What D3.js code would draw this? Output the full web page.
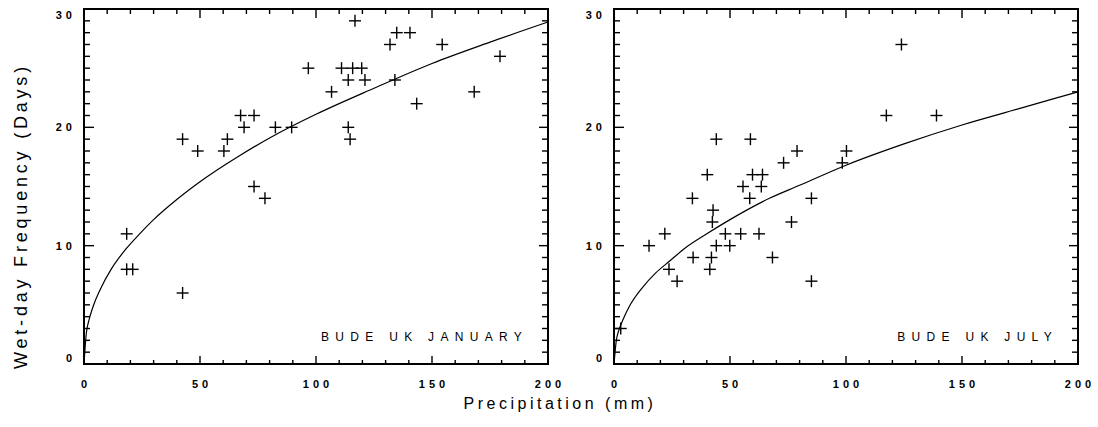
<!DOCTYPE html>
<html>
<head>
<meta charset="utf-8">
<script src="https://cdn.jsdelivr.net/npm/d3@7"></script>
<style>
	body { margin: 0; background: #fff; }
	text { font-family: "Liberation Sans", Arial, sans-serif; fill: #000; }
</style>
</head>
<body>
<div id="container"></div>
<script>
// precipitation (mm) vs wet-day frequency (days)
const janX = [18.4, 18.4, 21, 42.5, 42.5, 49, 60.3, 61.8, 67.5, 73.3, 69, 82.5, 89.5, 73.3, 78, 96.7, 106.7, 111, 115.8, 119.7, 113.9, 121.1, 116.8, 113.9, 114.7, 131.9, 134.8, 140.5, 134, 143.4, 154.4, 168.2, 179.3];
const janY = [11, 8, 8, 6, 19, 18, 18, 19, 21, 21, 20, 20, 20, 15, 14, 25, 23, 25, 25, 25, 24, 24, 29, 20, 19, 27, 28, 28, 24, 22, 27, 23, 26];

const julX = [44.1, 58.8, 73.1, 78.9, 40.2, 59.7, 64, 55.6, 63.5, 33.8, 58.5, 85.1, 42.7, 42.4, 76.5, 15.1, 21.9, 23.7, 27.2, 34.1, 42, 41.3, 44.1, 49.9, 48, 54.6, 62.5, 68.3, 85.1, 2.9, 123.9, 117.4, 139, 100.2, 98.4];
const julY = [19, 19, 17, 18, 16, 16, 16, 15, 15, 14, 14, 14, 13, 12, 12, 10, 11, 8, 7, 9, 9, 8, 10, 10, 11, 11, 11, 9, 7, 3, 27, 21, 21, 18, 17];

// fitted curves
const curveX   = [0, 1, 2, 4, 7, 12, 18, 24, 30, 40, 50, 67, 80, 100, 125, 150, 175, 200];
const janFitY  = [0, 2.6, 3.6, 4.9, 6.3, 8.1, 9.7, 11.0, 12.2, 13.9, 15.4, 17.6, 19.1, 21.1, 23.3, 25.4, 27.2, 28.9];
const julFitY  = [0, 2.0, 2.8, 3.8, 5.0, 6.4, 7.7, 8.7, 9.7, 11.0, 12.2, 14.0, 15.1, 16.8, 18.6, 20.2, 21.6, 23.0];

const xTicks = [0, 50, 100, 150, 200];
const yTicks = [0, 10, 20, 30];
const panelLabels = ["BUDE UK JANUARY", "BUDE UK JULY"];

const width = 1098, height = 427;
const plot = { top: 9, width: 464, height: 355 };
const panelLeft = [84, 614];

const svg = d3.select("#container")
	.append("svg")
	.attr("width", width)
	.attr("height", height);

svg.append("rect").attr("width", width).attr("height", height).attr("fill", "#fff");

const x = d3.scaleLinear().domain([0, 200]).range([0, plot.width]);
const y = d3.scaleLinear().domain([0, 30]).range([plot.height, 0]);

const panels = [
	{ px: janX, py: janY, fit: janFitY, label: panelLabels[0] },
	{ px: julX, py: julY, fit: julFitY, label: panelLabels[1] },
];

panels.forEach((p, i) => {
	const g = svg.append("g")
		.attr("transform", `translate(${panelLeft[i]}, ${plot.top})`);

	// inward ticks on all four sides
	const xMinor = d3.range(0, 201, 10);
	const yMinor = d3.range(0, 31, 1);

	g.selectAll(".tb").data(xMinor).enter().append("line")
		.attr("x1", d => x(d)).attr("x2", d => x(d))
		.attr("y1", plot.height).attr("y2", d => plot.height - (d % 50 === 0 ? 8 : 4))
		.attr("stroke", "#000").attr("stroke-width", 1.4);
	g.selectAll(".tt").data(xMinor).enter().append("line")
		.attr("x1", d => x(d)).attr("x2", d => x(d))
		.attr("y1", 0).attr("y2", d => (d % 50 === 0 ? 9 : 5))
		.attr("stroke", "#000").attr("stroke-width", 1.4);
	g.selectAll(".tl").data(yMinor).enter().append("line")
		.attr("y1", d => y(d)).attr("y2", d => y(d))
		.attr("x1", 0).attr("x2", d => (d % 10 === 0 ? 10 : 6))
		.attr("stroke", "#000").attr("stroke-width", 1.4);
	g.selectAll(".tr").data(yMinor).enter().append("line")
		.attr("y1", d => y(d)).attr("y2", d => y(d))
		.attr("x1", plot.width).attr("x2", d => plot.width - (d % 10 === 0 ? 9 : 6))
		.attr("stroke", "#000").attr("stroke-width", 1.4);

	// frame
	g.append("rect")
		.attr("width", plot.width).attr("height", plot.height)
		.attr("fill", "none").attr("stroke", "#000").attr("stroke-width", 2);

	// tick labels
	g.selectAll(".xl").data(xTicks).enter().append("text")
		.attr("x", d => x(d) + 2)
		.attr("y", plot.height + 24)
		.attr("text-anchor", "middle")
		.attr("font-size", 11).attr("font-weight", "bold")
		.attr("letter-spacing", 4)
		.text(d => d);
	g.selectAll(".yl").data(yTicks).enter().append("text")
		.attr("x", -8)
		.attr("y", d => Math.min(Math.max(y(d), 6), plot.height - 6) + 4)
		.attr("text-anchor", "end")
		.attr("font-size", 11).attr("font-weight", "bold")
		.attr("letter-spacing", 4)
		.text(d => d);

	// fitted curve
	const line = d3.line()
		.x(d => x(d[0]))
		.y(d => y(d[1]))
		.curve(d3.curveMonotoneX);
	g.append("path")
		.datum(d3.zip(curveX, p.fit))
		.attr("d", line)
		.attr("fill", "none").attr("stroke", "#000").attr("stroke-width", 1.2);

	// plus markers
	const pts = d3.zip(p.px, p.py);
	g.selectAll(".ph").data(pts).enter().append("line")
		.attr("x1", d => x(d[0]) - 6).attr("x2", d => x(d[0]) + 6)
		.attr("y1", d => y(d[1])).attr("y2", d => y(d[1]))
		.attr("stroke", "#000").attr("stroke-width", 1.4);
	g.selectAll(".pv").data(pts).enter().append("line")
		.attr("x1", d => x(d[0])).attr("x2", d => x(d[0]))
		.attr("y1", d => y(d[1]) - 6).attr("y2", d => y(d[1]) + 6)
		.attr("stroke", "#000").attr("stroke-width", 1.4);

	// panel label
	g.append("text")
		.attr("x", plot.width - 20)
		.attr("y", plot.height - 23)
		.attr("text-anchor", "end")
		.attr("font-size", 12)
		.attr("letter-spacing", 6.3)
		.text(p.label);
});

// axis titles
svg.append("text")
	.attr("transform", "translate(27, 216) rotate(-90)")
	.attr("text-anchor", "middle")
	.attr("font-size", 18)
	.attr("letter-spacing", 3.8)
	.text("Wet-day Frequency (Days)");

svg.append("text")
	.attr("x", 560)
	.attr("y", 409)
	.attr("text-anchor", "middle")
	.attr("font-size", 16)
	.attr("letter-spacing", 3.5)
	.text("Precipitation (mm)");
</script>
</body>
</html>
